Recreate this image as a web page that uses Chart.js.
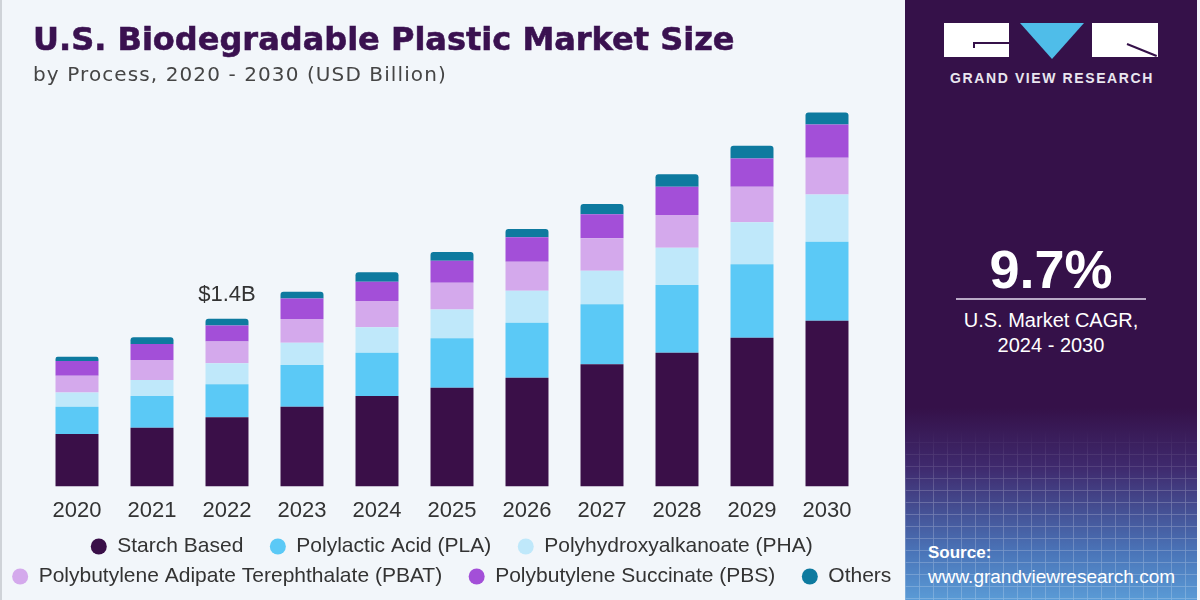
<!DOCTYPE html>
<html>
<head>
<meta charset="utf-8">
<script src="https://cdn.jsdelivr.net/npm/chart.js@4.4.1/dist/chart.umd.min.js"></script>
<style>
  html, body { margin: 0; padding: 0; }
  body { width: 1200px; height: 600px; position: relative; overflow: hidden; background: #f2f6fa; font-family: "Liberation Sans", Arial, sans-serif; }
  #edge { position: absolute; left: 0; top: 0; width: 2px; height: 600px; background: #cfd3d8; z-index: 2; }
  #chart { position: absolute; left: -22px; top: 0; }
  #title { position: absolute; left: 33px; top: 20px; font-family: "DejaVu Sans", sans-serif; font-size: 32px; font-weight: 700; color: #3a1150; -webkit-text-stroke: 0.6px #3a1150; white-space: nowrap; }
  #subtitle { position: absolute; left: 33px; top: 62px; font-family: "DejaVu Sans", sans-serif; font-size: 20px; letter-spacing: 1.1px; color: #454545; white-space: nowrap; }
  #panel { position: absolute; left: 905px; top: 0; width: 292px; height: 600px; overflow: hidden;
    background: linear-gradient(to bottom, #351149 0%, #351149 68%, #3f2a6e 78%, #4a74b8 92%, #5a9bd6 100%); }
  #grid { position: absolute; left: 0; top: 430px; width: 292px; height: 170px; opacity: 0.25;
    background-image: repeating-linear-gradient(to right, rgba(255,255,255,0.8) 0 1px, transparent 1px 14px),
                      repeating-linear-gradient(to bottom, rgba(255,255,255,0.8) 0 1px, transparent 1px 12px);
    -webkit-mask-image: linear-gradient(to bottom, transparent, #000 40%); }
  .logo { position: absolute; background: #fff; }
  #tri { position: absolute; left: 115px; top: 23px; width: 0; height: 0; border-left: 32px solid transparent; border-right: 32px solid transparent; border-top: 36px solid #4fbde9; }
  #brand { position: absolute; left: 38px; top: 70px; width: 218px; text-align: center; color: #e9e6ef; font-size: 14px; font-weight: 700; letter-spacing: 1.6px; white-space: nowrap; }
  #cagr { position: absolute; left: 0; top: 238px; width: 292px; text-align: center; color: #fff; font-size: 54px; line-height: 1.149; font-weight: 700; }
  #rule { position: absolute; left: 51px; top: 298px; width: 190px; height: 2px; background: #b9aac6; }
  #cagrText { position: absolute; left: 0; top: 308px; width: 292px; text-align: center; color: #fff; font-size: 20px; line-height: 25px; }
  #src1 { position: absolute; left: 23px; top: 543px; color: #fff; font-size: 17px; font-weight: 700; }
  #src2 { position: absolute; left: 23px; top: 566px; color: #fff; font-size: 19px; }
</style>
</head>
<body>
<div id="edge"></div>
<canvas id="chart" width="965" height="600"></canvas>
<div id="title">U.S. Biodegradable Plastic Market Size</div>
<div id="subtitle">by Process, 2020 - 2030 (USD Billion)</div>
<div id="panel">
  <div id="grid"></div>
  <div class="logo" style="left:39px;top:23px;width:65px;height:34px"></div>
  <div style="position:absolute;left:68px;top:42px;width:36px;height:2px;background:#351149"></div>
  <div style="position:absolute;left:68px;top:42px;width:2px;height:6px;background:#351149"></div>
  <div id="tri"></div>
  <div class="logo" style="left:187px;top:23px;width:66px;height:34px"></div>
  <div style="position:absolute;left:222px;top:43px;width:32px;height:2px;background:#351149;transform:rotate(22deg);transform-origin:left center"></div>
  <div id="brand">GRAND VIEW RESEARCH</div>
  <div id="cagr">9.7%</div>
  <div id="rule"></div>
  <div id="cagrText">U.S. Market CAGR,<br>2024 - 2030</div>
  <div id="src1">Source:</div>
  <div id="src2">www.grandviewresearch.com</div>
</div>
<script>
const years = ["2020", "2021", "2022", "2023", "2024", "2025", "2026", "2027", "2028", "2029", "2030"]

// USD billion
const starchBased = [0.439, 0.492, 0.579, 0.667, 0.757, 0.826, 0.910, 1.022, 1.119, 1.244, 1.386]
const pla = [0.228, 0.265, 0.276, 0.349, 0.362, 0.413, 0.460, 0.502, 0.566, 0.614, 0.661]
const pha = [0.120, 0.134, 0.176, 0.186, 0.212, 0.242, 0.268, 0.281, 0.312, 0.351, 0.396]
const pbat = [0.139, 0.167, 0.181, 0.198, 0.220, 0.222, 0.242, 0.271, 0.273, 0.298, 0.306]
const pbs = [0.123, 0.134, 0.134, 0.173, 0.161, 0.184, 0.204, 0.201, 0.237, 0.237, 0.279]
const others = [0.036, 0.056, 0.056, 0.055, 0.079, 0.075, 0.069, 0.086, 0.104, 0.105, 0.100]

const callout = { index: 2, text: "$1.4B" }

const FONT = "'Liberation Sans', Arial, sans-serif"
const GAP = "   " // widens the space between legend entries without widening rows

const series = [
  { label: "Starch Based", data: starchBased, color: "#3a0f48" },
  { label: "Polylactic Acid (PLA)", data: pla, color: "#5bc9f6" },
  { label: "Polyhydroxyalkanoate (PHA)", data: pha, color: "#bfe8fa" },
  { label: "Polybutylene Adipate Terephthalate (PBAT)", data: pbat, color: "#d4a9ec" },
  { label: "Polybutylene Succinate (PBS)", data: pbs, color: "#a34fd8" },
  { label: "Others", data: others, color: "#0e7a9f" },
]

const calloutPlugin = {
  id: "callout",
  afterDatasetsDraw(chart) {
    const meta = chart.getDatasetMeta(chart.data.datasets.length - 1)
    const bar = meta.data[callout.index]
    if (!bar) return
    const ctx = chart.ctx
    ctx.save()
    ctx.font = "22px " + FONT
    ctx.fillStyle = "#333"
    ctx.textAlign = "center"
    ctx.textBaseline = "alphabetic"
    ctx.fillText(callout.text, bar.x, bar.y - 18)
    ctx.restore()
  },
}

new Chart(document.getElementById("chart"), {
  type: "bar",
  data: {
    labels: years,
    datasets: series.map((s) => ({
      label: s.label,
      data: s.data,
      backgroundColor: s.color,
      borderWidth: 0,
      borderRadius: 3,
      barPercentage: 0.573,
      categoryPercentage: 1,
    })),
  },
  options: {
    responsive: false,
    animation: false,
    devicePixelRatio: 1,
    layout: { padding: { top: 68, left: 0, right: 0, bottom: 3 } },
    scales: {
      x: {
        stacked: true,
        grid: { display: false },
        border: { display: false },
        ticks: { color: "#333", font: { family: FONT, size: 22 }, padding: 3 },
        afterFit: (scale) => { scale.height = 40.5 },
      },
      y: {
        stacked: true,
        min: 0,
        max: 3.5,
        grid: { display: false },
        border: { display: false },
        ticks: { display: false },
        afterFit: (scale) => { scale.width = 61.5 },
      },
      yRight: {
        position: "right",
        min: 0,
        max: 3.5,
        grid: { display: false },
        border: { display: false },
        ticks: { display: false },
        afterFit: (scale) => { scale.width = 78.5 },
      },
    },
    plugins: {
      legend: {
        position: "bottom",
        labels: {
          usePointStyle: true,
          pointStyle: "circle",
          pointStyleWidth: 16,
          boxHeight: 11.3,
          padding: 9,
          color: "#333",
          font: { family: FONT, size: 21 },
          generateLabels: (chart) =>
            Chart.defaults.plugins.legend.labels.generateLabels(chart).map((item) => ({
              ...item,
              text: item.text + GAP,
            })),
        },
      },
      tooltip: { enabled: false },
    },
  },
  plugins: [calloutPlugin],
})
</script>
</body>
</html>
